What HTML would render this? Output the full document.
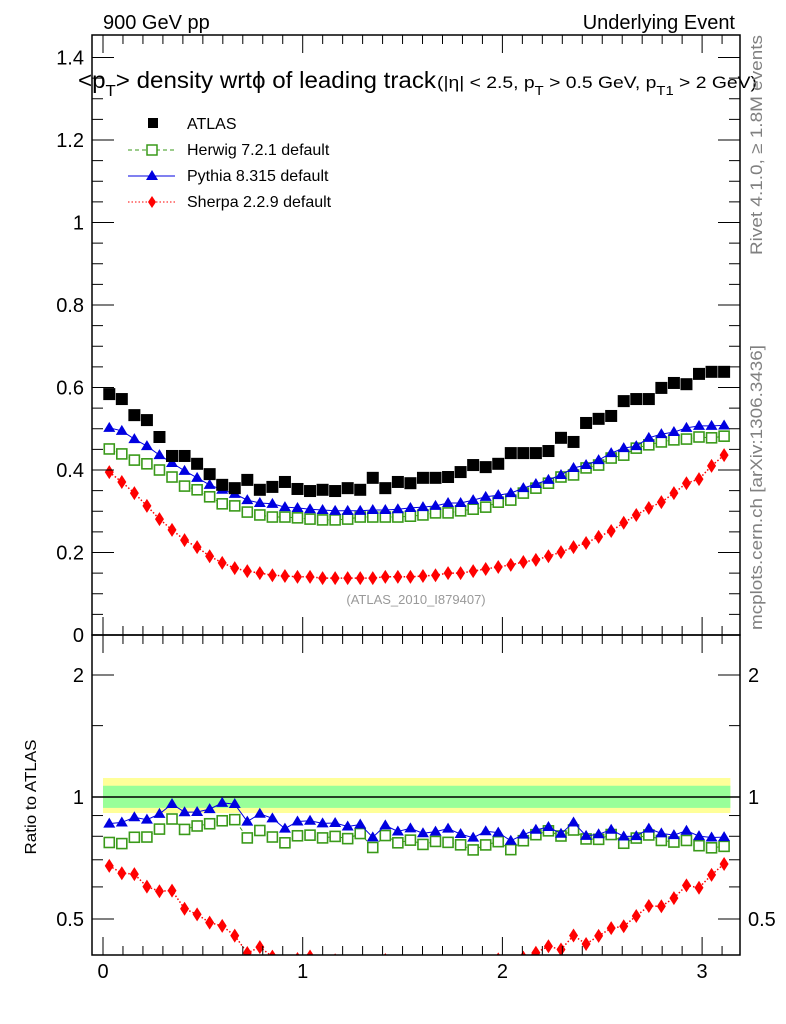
<!DOCTYPE html>
<html><head><meta charset="utf-8"><style>
body{margin:0;background:#fff;}
svg{display:block;font-family:"Liberation Sans",sans-serif;}
</style></head><body>
<svg id="c" width="786" height="1024" viewBox="0 0 786 1024" xmlns="http://www.w3.org/2000/svg">
<text x="103" y="29" font-size="20">900 GeV pp</text>
<text x="735" y="29" font-size="20" text-anchor="end">Underlying Event</text>
<text x="78" y="88" font-size="23" textLength="358" lengthAdjust="spacingAndGlyphs">&lt;p<tspan font-size="16" dy="8">T</tspan><tspan dy="-8">&gt; density wrt</tspan>ϕ of leading track</text>
<text x="437" y="88" font-size="17" textLength="320" lengthAdjust="spacingAndGlyphs">(|η| &lt; 2.5, p<tspan font-size="13" dy="7">T</tspan><tspan dy="-7"> &gt; 0.5 GeV, p</tspan><tspan font-size="13" dy="7">T1</tspan><tspan dy="-7"> &gt; 2 GeV)</tspan></text>
<text transform="translate(762,255) rotate(-90)" font-size="17" textLength="220" lengthAdjust="spacingAndGlyphs" fill="#808080">Rivet 4.1.0, ≥ 1.8M events</text>
<text transform="translate(762,630) rotate(-90)" font-size="17" textLength="285" lengthAdjust="spacingAndGlyphs" fill="#808080">mcplots.cern.ch [arXiv:1306.3436]</text>
<text x="416" y="604" font-size="13" fill="#999" text-anchor="middle">(ATLAS_2010_I879407)</text>
<text transform="translate(36,797) rotate(-90)" font-size="16" textLength="115" lengthAdjust="spacingAndGlyphs" text-anchor="middle">Ratio to ATLAS</text>
<g id="legend">
<rect x="148" y="118" width="10" height="10" fill="#000"/>
<text x="187" y="129" font-size="16">ATLAS</text>
<line x1="128" y1="150" x2="175" y2="150" stroke="#3a9a1a" stroke-dasharray="4,3"/>
<rect x="147" y="145" width="10" height="10" fill="#fff" stroke="#3a9a1a" stroke-width="1.5"/>
<text x="187" y="155" font-size="16">Herwig 7.2.1 default</text>
<line x1="128" y1="176" x2="175" y2="176" stroke="#0000e0"/>
<polygon points="152,170 158,180 146,180" fill="#0000e0"/>
<text x="187" y="181" font-size="16">Pythia 8.315 default</text>
<line x1="128" y1="202" x2="175" y2="202" stroke="#f00" stroke-dasharray="1.5,2"/>
<polygon points="152,196 156,202 152,208 148,202" fill="#f00"/>
<text x="187" y="207" font-size="16">Sherpa 2.2.9 default</text>
</g>
</svg>
<script>
const atlas=[.584,.572,.533,.521,.480,.434,.434,.415,.390,.364,.356,.376,.352,.359,.371,.354,.349,.352,.349,.356,.352,.381,.356,.371,.368,.381,.381,.383,.395,.412,.407,.415,.441,.441,.441,.446,.478,.468,.514,.524,.531,.567,.572,.572,.599,.611,.608,.633,.638,.638];
const pythia=[.502,.495,.475,.458,.436,.417,.398,.381,.364,.352,.342,.327,.320,.318,.310,.308,.305,.303,.301,.301,.301,.303,.303,.305,.308,.310,.313,.320,.320,.327,.335,.339,.344,.356,.366,.376,.388,.405,.412,.424,.441,.453,.458,.478,.487,.492,.502,.507,.507,.508];
const herwig=[.451,.439,.424,.415,.400,.383,.361,.352,.335,.318,.313,.298,.291,.286,.286,.284,.281,.279,.279,.281,.286,.286,.286,.286,.288,.291,.296,.296,.301,.305,.310,.322,.327,.344,.356,.368,.383,.388,.405,.412,.429,.436,.453,.461,.468,.473,.475,.480,.478,.482];
const sherpa=[.395,.371,.344,.313,.281,.255,.230,.213,.191,.175,.162,.155,.150,.145,.143,.141,.141,.138,.138,.138,.138,.138,.141,.141,.141,.143,.145,.150,.150,.155,.160,.165,.170,.177,.182,.191,.201,.213,.223,.238,.252,.272,.291,.308,.322,.344,.368,.378,.410,.436];
const mainTicks=[0,0.2,0.4,0.6,0.8,1,1.2,1.4];
const mainTickLabels=["0","0.2","0.4","0.6","0.8","1","1.2","1.4"];
const xTicks=[0,1,2,3];
const ratioTicks=[0.5,1,2];
const bandStat=[0.94,1.066];
const bandTot=[0.913,1.114];

const NS="http://www.w3.org/2000/svg";
const svg=document.getElementById('c');
function mk(tag,attrs,parent){const e=document.createElementNS(NS,tag);for(const k in attrs)e.setAttribute(k,attrs[k]);(parent||svg).appendChild(e);return e;}
const L=92,R=740,T1=35,B1=635,T2=635,B2=955;
const X=v=>103+v*199.7;
const Y=v=>635-v*412.5;
const YR=r=>797-Math.log2(r)*122;
const N=atlas.length;
const xc=i=>(i+0.5)*Math.PI/N;

const defs=mk('defs',{});
const c1=mk('clipPath',{id:'clipM'},defs);mk('rect',{x:L,y:T1,width:R-L,height:B1-T1},c1);
const c2=mk('clipPath',{id:'clipR'},defs);mk('rect',{x:L,y:T2,width:R-L,height:B2-T2},c2);

// bands
const gb=mk('g',{});


let b1=mk('rect',{x:X(0),y:YR(bandTot[1]),width:X(Math.PI)-X(0),height:YR(bandTot[0])-YR(bandTot[1]),fill:'#ffff99'},gb);


let b2=mk('rect',{x:X(0),y:YR(bandStat[1]),width:X(Math.PI)-X(0),height:YR(bandStat[0])-YR(bandStat[1]),fill:'#99ff99'},gb);


let ul=mk('line',{x1:L,x2:R,y1:YR(1),y2:YR(1),stroke:'#000','stroke-width':1.5});



// series
function marker(kind,x,y,g,color){
 let e;
 if(kind=='sq'){e=mk('rect',{x:x-6,y:y-6,width:12,height:12,fill:'#000'},g);}
 else if(kind=='osq'){e=mk('rect',{x:x-5,y:y-5,width:10,height:10,fill:'#fff',stroke:color,'stroke-width':1.6},g);}
 else if(kind=='tri'){e=mk('polygon',{points:`${x},${y-6} ${x+6},${y+4} ${x-6},${y+4}`,fill:color},g);}
 else {e=mk('polygon',{points:`${x},${y-7} ${x+4.5},${y} ${x},${y+7} ${x-4.5},${y}`,fill:color},g);}
 return e;}
function series(arr,name,kind,color,dash,ratio){
 const g=mk('g',{'clip-path':ratio?'url(#clipR)':'url(#clipM)'});
 
 
 const pts=[];
 arr.forEach((v,i)=>{const val=ratio?v/atlas[i]:v;const y=ratio?YR(val):Y(val);pts.push([X(xc(i)),y,ratio&&(y>B2+8||y<T2-8)]);});
 if(color!='#000'){const d=pts.map((p,i)=>(i?'L':'M')+p[0].toFixed(1)+','+Math.min(p[1],B2+20).toFixed(1)).join('');
  const cp=mk('path',{d:d,fill:'none',stroke:color,'stroke-width':dash=='1.5,2'?1.5:1,'stroke-dasharray':dash||'none'},g);
  
  }
 pts.forEach(p=>{if(p[2])return;const m=marker(kind,p[0],p[1],g,color);
  
  });
}
series(sherpa,'sherpa','dia','#f00','1.5,2',false);
series(herwig,'herwig','osq','#3a9a1a','4,3',false);
series(pythia,'pythia','tri','#0000e0',null,false);
series(atlas,'atlas','sq','#000',null,false);
series(sherpa,'sherpa','dia','#f00','1.5,2',true);
series(herwig,'herwig','osq','#3a9a1a','4,3',true);
series(pythia,'pythia','tri','#0000e0',null,true);

// frames
let f1=mk('rect',{x:L,y:T1,width:R-L,height:B1-T1,fill:'none',stroke:'#000','stroke-width':1.5});


let f2=mk('rect',{x:L,y:T2,width:R-L,height:B2-T2,fill:'none',stroke:'#000','stroke-width':1.5});



// axes ticks
const ga=mk('g',{stroke:'#000','stroke-width':1});


for(let v=0;v<=1.45;v+=0.05){const y=Y(v);if(y<T1)break;const maj=Math.abs(v/0.2-Math.round(v/0.2))<1e-6;const len=maj?22:11;
 mk('line',{x1:L,x2:L+len,y1:y,y2:y},ga);mk('line',{x1:R,x2:R-len,y1:y,y2:y},ga);}
mainTicks.forEach((v,i)=>{const t=mk('text',{x:84,y:Y(v)+7,'font-size':20,'text-anchor':'end',stroke:'none'});t.textContent=mainTickLabels[i];
 
 });
for(let k=0;k<=31;k++){const v=k/10;const x=X(v);const maj=k%10==0;const len=maj?18:9;
 mk('line',{x1:x,x2:x,y1:B1,y2:B1-len},ga);mk('line',{x1:x,x2:x,y1:T1,y2:T1+len},ga);
 mk('line',{x1:x,x2:x,y1:B2,y2:B2-len},ga);mk('line',{x1:x,x2:x,y1:T2,y2:T2+len},ga);}
xTicks.forEach(v=>{const t=mk('text',{x:X(v),y:978,'font-size':20,'text-anchor':'middle',stroke:'none'});t.textContent=String(v);
 
 });
[0.5,0.6,0.7,0.8,0.9,1,1.5,2].forEach(r=>{const y=YR(r);const maj=ratioTicks.includes(r);const len=maj?22:11;
 mk('line',{x1:L,x2:L+len,y1:y,y2:y},ga);mk('line',{x1:R,x2:R-len,y1:y,y2:y},ga);});
ratioTicks.forEach(r=>{const t=mk('text',{x:84,y:YR(r)+7,'font-size':20,'text-anchor':'end',stroke:'none'});t.textContent=String(r);
 
 
 const t2=mk('text',{x:748,y:YR(r)+7,'font-size':20,stroke:'none'});t2.textContent=String(r);
 
 });
</script>
</body></html>
